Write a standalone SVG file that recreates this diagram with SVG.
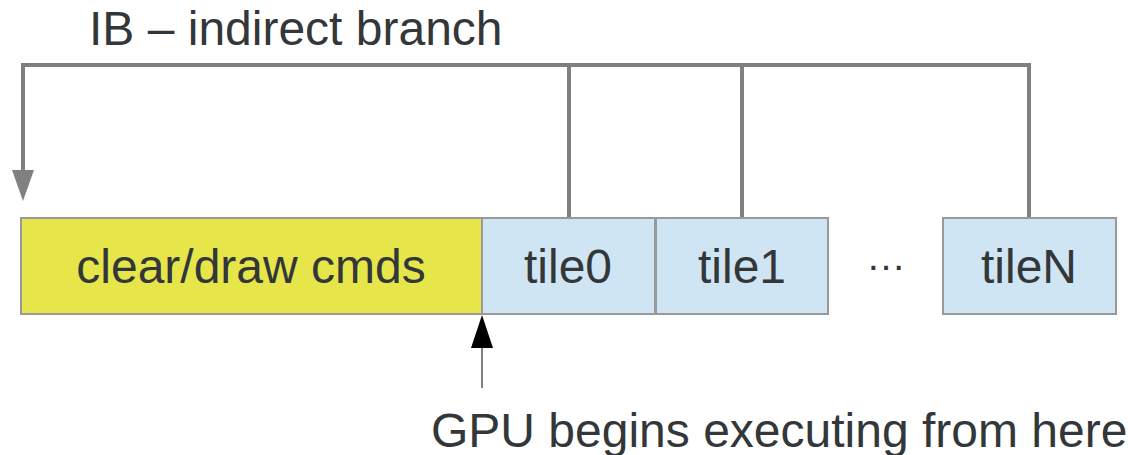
<svg xmlns="http://www.w3.org/2000/svg" width="1128" height="455" viewBox="0 0 1128 455">
<style>
.t{font-family:"Liberation Sans",Arial,sans-serif;font-size:48px;fill:#333739}
.box{stroke:#999;stroke-width:2}
.y{fill:#e6e64a}
.b{fill:#cfe5f3}
.c{fill:none;stroke:#808080;stroke-width:4}
</style>
<rect width="1128" height="455" fill="#fff"/>
<text class="t" x="89" y="45">IB – indirect branch</text>
<g id="connectors">
<polyline class="c" points="23,172 23,65 1029,65 1029,218"/>
<line class="c" x1="569" y1="65" x2="569" y2="218"/>
<line class="c" x1="742" y1="65" x2="742" y2="218"/>
<polygon points="12,170 34,170 23,201" fill="#808080"/>
<line x1="482" y1="388" x2="482" y2="346" stroke="#808080" stroke-width="2"/>
<polygon points="471,348 493,348 482,315" fill="#000"/>
</g>
<g id="cmds"><rect class="box y" x="21" y="218" width="461" height="96"/><text class="t" x="251" y="283" text-anchor="middle">clear/draw cmds</text></g>
<g id="tile0"><rect class="box b" x="482" y="218" width="173" height="96"/><text class="t" x="568" y="283" text-anchor="middle">tile0</text></g>
<g id="tile1"><rect class="box b" x="656" y="218" width="172" height="96"/><text class="t" x="742" y="283" text-anchor="middle">tile1</text></g>
<g id="dots"><text class="t" x="886" y="270" text-anchor="middle" style="font-size:40px">…</text></g>
<g id="tileN"><rect class="box b" x="943" y="218" width="173" height="96"/><text class="t" x="1029" y="283" text-anchor="middle">tileN</text></g>
<text class="t" x="431" y="447">GPU begins executing from here</text>
</svg>
